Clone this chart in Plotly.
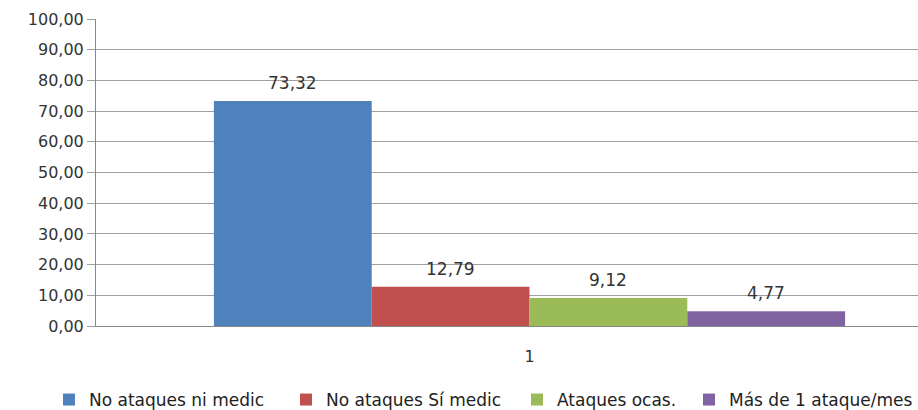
import plotly.graph_objects as go

categories = ["1"]
series_names = ["No ataques ni medic", "No ataques Sí medic", "Ataques ocas.", "Más de 1 ataque/mes"]
series_values = [[73.32], [12.79], [9.12], [4.77]]
series_colors = ["#4F81BD", "#C0504D", "#9BBB59", "#8064A2"]
y_ticks = [0, 10, 20, 30, 40, 50, 60, 70, 80, 90, 100]

# left edge (px) of each legend entry along the bottom row
legend_x_px = [49, 286, 517, 689]

font_family = "DejaVu Sans"
bar_gap = 0.272
n_series = len(series_names)
bar_w = (1 - bar_gap) / n_series
fig_w, fig_h = 918, 410


def fmt(v):
    return f"{v:.2f}".replace(".", ",")


fig = go.Figure()
legend_layouts = {}
for i, (name, vals, color) in enumerate(zip(series_names, series_values, series_colors)):
    legend_id = "legend" if i == 0 else f"legend{i + 1}"
    fig.add_trace(go.Bar(
        x=[0] * len(vals),
        y=vals,
        name=name,
        legend=legend_id,
        marker=dict(color=color, line=dict(width=0)),
        cliponaxis=False,
    ))
    legend_layouts[legend_id] = dict(
        orientation="h",
        x=legend_x_px[i] / fig_w,
        xref="container",
        xanchor="left",
        y=-0.241,
        yref="paper",
        yanchor="middle",
        font=dict(family=font_family, size=17, color="#222222"),
        itemwidth=30,
        bgcolor="rgba(0,0,0,0)",
    )
    # value labels above each bar
    for v in vals:
        fig.add_annotation(
            x=(i - (n_series - 1) / 2) * bar_w,
            y=v,
            xref="x",
            yref="y",
            text=fmt(v),
            showarrow=False,
            yanchor="bottom",
            yshift=6,
            font=dict(family=font_family, size=17, color="#333333"),
        )

fig.update_layout(
    width=fig_w,
    height=fig_h,
    margin=dict(l=96, r=0, t=19, b=84, autoexpand=False),
    paper_bgcolor="white",
    plot_bgcolor="white",
    barmode="group",
    bargap=bar_gap,
    bargroupgap=0,
    separators=",.",
    font=dict(family=font_family, size=16, color="#333333"),
    showlegend=True,
    xaxis=dict(
        range=[-0.5, -0.5 + 822 / 867],
        tickmode="array",
        tickvals=[0],
        ticktext=categories,
        showgrid=False,
        zeroline=False,
        showline=True,
        linecolor="#888888",
        linewidth=1,
        ticks="",
        ticklabelstandoff=16,
        tickfont=dict(family=font_family, size=16, color="#333333"),
    ),
    yaxis=dict(
        range=[0, 100],
        tickmode="array",
        tickvals=y_ticks,
        tickformat=".2f",
        showgrid=True,
        gridcolor="#a0a0a0",
        gridwidth=1,
        zeroline=False,
        showline=True,
        linecolor="#888888",
        linewidth=1,
        ticks="outside",
        ticklen=8,
        tickcolor="#a0a0a0",
        tickfont=dict(family=font_family, size=16, color="#333333"),
    ),
    **legend_layouts,
)

fig.write_html("out.html")
